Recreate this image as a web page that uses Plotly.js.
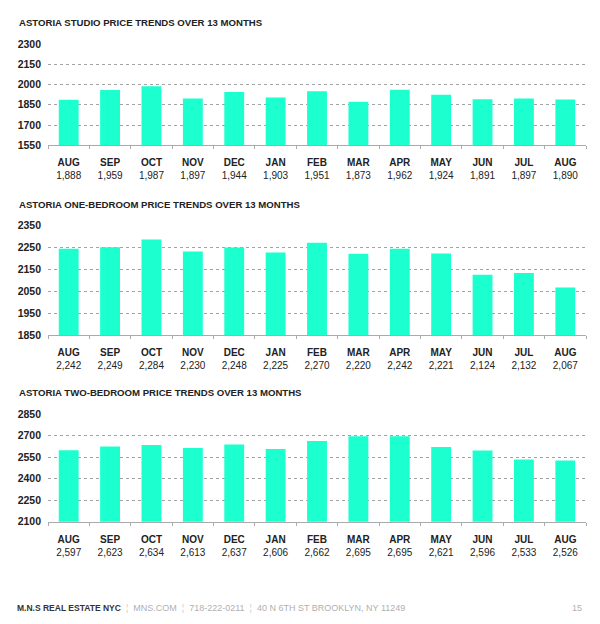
<!DOCTYPE html>
<html>
<head>
<meta charset="utf-8">
<script src="https://cdn.plot.ly/plotly-3.0.1.min.js"></script>
<style>html,body{margin:0;padding:0;background:#fff;}#chart{width:600px;height:624px;}</style>
</head>
<body>
<div id="chart"></div>
<script>
// ---- data ----
var months = ["AUG","SEP","OCT","NOV","DEC","JAN","FEB","MAR","APR","MAY","JUN","JUL","AUG"];
var studioPrices = [1888,1959,1987,1897,1944,1903,1951,1873,1962,1924,1891,1897,1890];
var oneBedPrices = [2242,2249,2284,2230,2248,2225,2270,2220,2242,2221,2124,2132,2067];
var twoBedPrices = [2597,2623,2634,2613,2637,2606,2662,2695,2695,2621,2596,2533,2526];
var chartTitles = [
  "ASTORIA STUDIO PRICE TRENDS OVER 13 MONTHS",
  "ASTORIA ONE-BEDROOM PRICE TRENDS OVER 13 MONTHS",
  "ASTORIA TWO-BEDROOM PRICE TRENDS OVER 13 MONTHS"
];
var yRanges = [[1550,2300],[1850,2350],[2100,2850]];
var yTickSteps = [150,100,150];
var footerCompany = "M.N.S REAL ESTATE NYC";
var footerDetails = ["MNS.COM","718-222-0211","40 N 6TH ST BROOKLYN, NY 11249"];
var pageNumber = "15";

// ---- layout helpers ----
var W = 600, H = 624;
var FONT = "Liberation Sans, Arial, sans-serif";
var BAR = "#1cffcf";
var series = [studioPrices, oneBedPrices, twoBedPrices];
// plot area pixel bands [top, bottom]
var bands = [[44,145.3],[225,335.3],[414,521.7]];
var titleY = [23,205,392];
var xs = months.map(function(m,i){return i;});
function fmt(v){return v.toLocaleString("en-US");}

var data = [], layout = {
  width: W, height: H,
  margin: {l:0,r:0,t:0,b:0},
  paper_bgcolor: "#fff", plot_bgcolor: "#fff",
  showlegend: false,
  bargap: 0.52,
  font: {family: FONT, color: "#222"},
  annotations: []
};

series.forEach(function(vals, k){
  var sfx = k === 0 ? "" : String(k+1);
  data.push({
    type: "bar", x: xs, y: vals,
    xaxis: "x"+sfx, yaxis: "y"+sfx,
    marker: {color: BAR, line: {width: 0}},
    hoverinfo: "skip"
  });
  var dom = [1 - bands[k][1]/H, 1 - bands[k][0]/H];
  layout["xaxis"+sfx] = {
    domain: [48/W, 586/W],
    anchor: "y"+sfx,
    range: [-0.5, 12.5],
    tickvals: xs,
    ticktext: months.map(function(m,i){return "<b>"+m+"</b><br>"+fmt(vals[i]);}),
    ticks: "",
    ticklabelstandoff: 8,
    tickfont: {family: FONT, size: 10, color: "#222"},
    showgrid: false, zeroline: false,
    showline: true, linecolor: "#aaaaaa", linewidth: 1,
    minor: {tick0: 0.5, dtick: 1, ticks: "outside", ticklen: 3, tickcolor: "#aaaaaa", tickwidth: 1, showgrid: false},
    fixedrange: true
  };
  layout["yaxis"+sfx] = {
    domain: dom,
    anchor: "x"+sfx,
    range: yRanges[k],
    tick0: yRanges[k][0], dtick: yTickSteps[k],
    ticks: "",
    ticklabelstandoff: 6,
    tickfont: {family: FONT, size: 10.5, color: "#222", weight: 700},
    showgrid: true, griddash: "dot", gridcolor: "#666", gridwidth: 0.6,
    zeroline: false, showline: false,
    fixedrange: true
  };
  layout.annotations.push({
    xref: "paper", yref: "paper", x: 17/W, y: 1 - titleY[k]/H,
    xanchor: "left", yanchor: "middle", showarrow: false,
    text: "<b>"+chartTitles[k]+"</b>",
    font: {family: FONT, size: 9.6, color: "#222"}
  });
});

var sep = '  <span style="color:#cccccc">¦</span>  ';
layout.annotations.push({
  xref: "paper", yref: "paper", x: 15/W, y: 1 - 608/H,
  xanchor: "left", yanchor: "middle", showarrow: false,
  text: '<b style="font-size:8.5px">'+footerCompany+"</b>"+sep+'<span style="color:#b0b0b0">'+footerDetails.join('</span>'+sep+'<span style="color:#b0b0b0">')+"</span>",
  font: {family: FONT, size: 9, color: "#333"}
});
layout.annotations.push({
  xref: "paper", yref: "paper", x: 584/W, y: 1 - 608/H,
  xanchor: "right", yanchor: "middle", showarrow: false,
  text: pageNumber,
  font: {family: FONT, size: 9, color: "#b0b0b0"}
});

Plotly.newPlot("chart", data, layout, {displayModeBar: false, staticPlot: true});
</script>
</body>
</html>
